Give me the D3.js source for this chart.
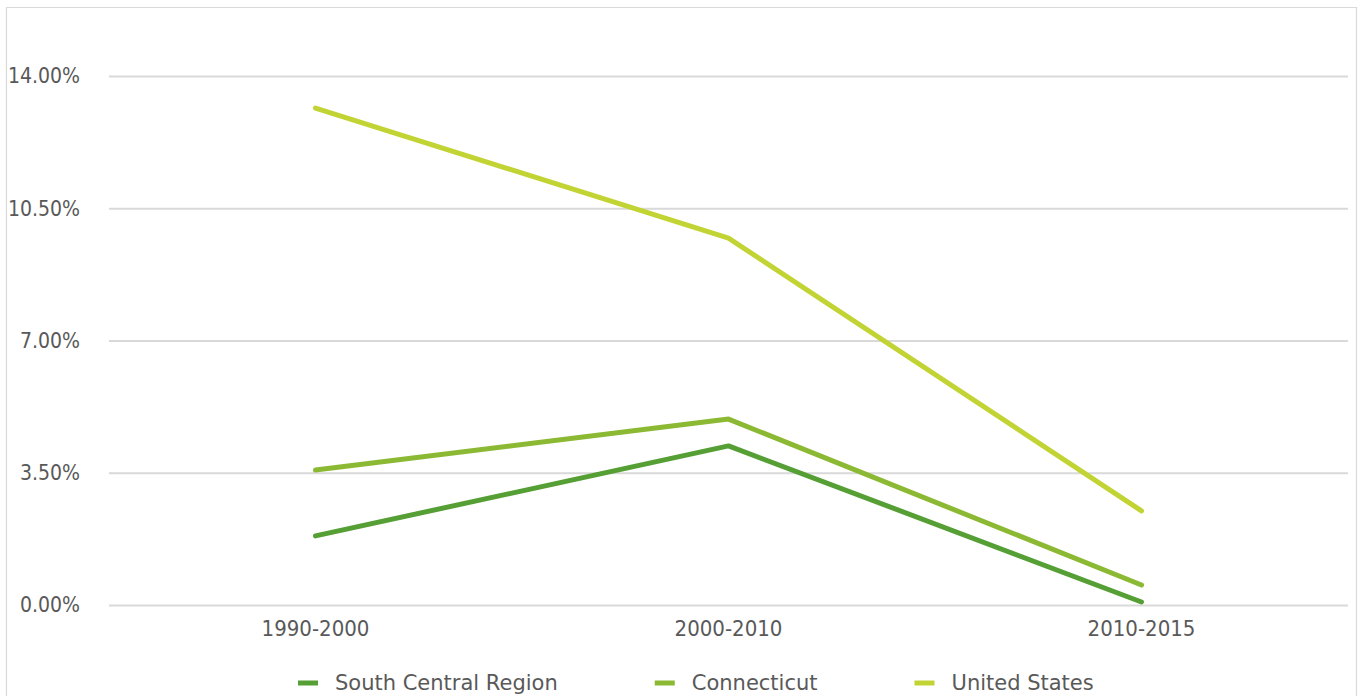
<!DOCTYPE html>
<html>
<head>
<meta charset="utf-8">
<script src="https://cdn.jsdelivr.net/npm/d3@7/dist/d3.min.js"></script>
<style>
  html, body { margin: 0; padding: 0; background: #fff; }
  svg { display: block; }
  text { fill: #595959; }
</style>
</head>
<body>
<svg id="chart" width="1358" height="696"></svg>
<script>
// Population growth rate by period
const periods = ["1990-2000", "2000-2010", "2010-2015"];
const seriesNames = ["South Central Region", "Connecticut", "United States"];
const southCentral = [1.83, 4.21, 0.08];
const connecticut = [3.57, 4.92, 0.53];
const unitedStates = [13.15, 9.71, 2.49];
const yTicks = [0, 3.5, 7, 10.5, 14];
const colors = ["#559f35", "#8cb933", "#c2d334"];

const series = [southCentral, connecticut, unitedStates].map((values, i) => ({
  name: seriesNames[i], values, color: colors[i]
}));

const svg = d3.select("#chart");
const W = 1358, H = 696;
const plot = { left: 109, right: 1348, top: 76, bottom: 605 };
const condensed = "\"DejaVu Sans Condensed\", \"DejaVu Sans\", sans-serif";
const regular = "\"DejaVu Sans\", sans-serif";

// outer frame (open at the bottom edge of the window)
svg.append("path")
  .attr("d", `M6.5,${H} V7.5 H1356.5 V${H}`)
  .attr("fill", "none")
  .attr("stroke", "#d9d9d9")
  .attr("stroke-width", 1.2);

const x = d3.scaleBand().domain(periods).range([plot.left, plot.right]);
const y = d3.scaleLinear().domain([0, 14]).range([plot.bottom, plot.top]);

// horizontal gridlines + y labels
const yAxis = d3.axisLeft(y)
  .tickValues(yTicks)
  .tickSize(-(plot.right - plot.left))
  .tickPadding(29)
  .tickFormat(d => d3.format(".2f")(d) + "%");

const gy = svg.append("g")
  .attr("transform", `translate(${plot.left},0)`)
  .call(yAxis);
gy.select(".domain").remove();
gy.selectAll(".tick line").attr("stroke", "#d9d9d9").attr("stroke-width", 2);
gy.selectAll(".tick text")
  .attr("font-size", 21)
  .attr("dy", "0.33em")
  .style("font-family", condensed)
  .attr("fill", "#595959");

// x labels
const xAxis = d3.axisBottom(x).tickSize(0).tickPadding(15);
const gx = svg.append("g")
  .attr("transform", `translate(0,${plot.bottom})`)
  .call(xAxis);
gx.select(".domain").remove();
gx.selectAll(".tick text")
  .attr("font-size", 22)
  .style("font-family", condensed)
  .attr("fill", "#595959");

// series lines
const line = d3.line()
  .x((d, i) => x(periods[i]) + x.bandwidth() / 2)
  .y(d => y(d));

svg.append("g").selectAll("path")
  .data(series)
  .join("path")
  .attr("d", d => line(d.values))
  .attr("fill", "none")
  .attr("stroke", d => d.color)
  .attr("stroke-width", 5)
  .attr("stroke-linecap", "round")
  .attr("stroke-linejoin", "round");

// legend: swatch, label, then a fixed gap to the next entry
const legend = svg.append("g").attr("transform", "translate(298,683)");
let cursor = 0;
series.forEach(s => {
  const g = legend.append("g").attr("transform", `translate(${cursor},0)`);
  g.append("line")
    .attr("x1", 0).attr("x2", 20)
    .attr("stroke", s.color)
    .attr("stroke-width", 5);
  const t = g.append("text")
    .attr("x", 37)
    .attr("dy", "0.35em")
    .attr("font-size", 21)
    .style("font-family", regular)
    .attr("fill", "#595959")
    .text(s.name);
  cursor += 37 + t.node().getComputedTextLength() + 97;
});
</script>
</body>
</html>
